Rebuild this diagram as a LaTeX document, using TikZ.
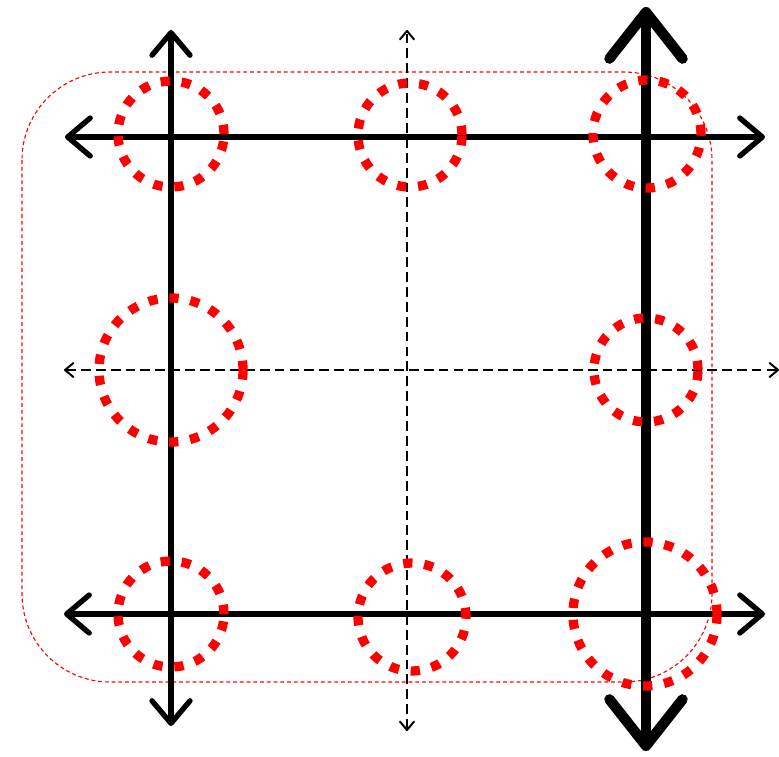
\documentclass[tikz,border=0pt]{standalone}
\usetikzlibrary{arrows.meta}
\begin{document}
\begin{tikzpicture}[x=0.025cm, y=-0.025cm,
	ring/.style={shape=circle, draw=red, line width=6.6pt, dash pattern=on 6.6pt off 8.4pt, inner sep=0pt, minimum size=#1},
	solidaxis/.style={line width=3.8pt, {Straight Barb[length=16pt, width=27pt, round]}-{Straight Barb[length=16pt, width=27pt, round]}},
	heavyaxis/.style={line width=7.4pt, {Straight Barb[length=33pt, width=52pt, round]}-{Straight Barb[length=33pt, width=52pt, round]}},
	dashaxis/.style={line width=1.4pt, dash pattern=on 7pt off 3.6pt, {Straight Barb[length=6pt, width=10pt, round]}-{Straight Barb[length=6pt, width=10pt, round]}}]
	\useasboundingbox (0, 0) rectangle (779, 757);
	% Frame:
	\draw[red, line width=0.8pt, dash pattern=on 2.8pt off 2pt, rounded corners=2.2cm] (22, 72) rectangle (712, 682);
	% Axis ends:
	\coordinate (LT) at (171, 30);
	\coordinate (LB) at (171, 726);
	\coordinate (MT) at (407, 30);
	\coordinate (MB) at (407, 731);
	\coordinate (RT) at (646, 7);
	\coordinate (RB) at (646, 751);
	\coordinate (TL) at (65, 137);
	\coordinate (TR) at (765, 137);
	\coordinate (CL) at (64, 370);
	\coordinate (CR) at (779, 370);
	\coordinate (BL) at (64, 614);
	\coordinate (BR) at (765, 614);
	% Axes:
	\draw[solidaxis] (LB) -- (LT);
	\draw[dashaxis] (MB) -- (MT);
	\draw[heavyaxis] (RB) -- (RT);
	\draw[solidaxis] (TL) -- (TR);
	\draw[dashaxis] (CL) -- (CR);
	\draw[solidaxis] (BL) -- (BR);
	% Rings:
	\node[ring=2.65cm](N1) at (171, 134){};
	\node[ring=2.6cm](N2) at (410, 135){};
	\node[ring=2.7cm](N3) at (647, 134){};
	\node[ring=3.6cm](N4) at (171, 370){};
	\node[ring=2.6cm](N5) at (646, 370){};
	\node[ring=2.65cm](N6) at (171, 614){};
	\node[ring=2.7cm](N7) at (412, 617){};
	\node[ring=3.6cm](N8) at (645, 614){};
\end{tikzpicture}
\end{document}
